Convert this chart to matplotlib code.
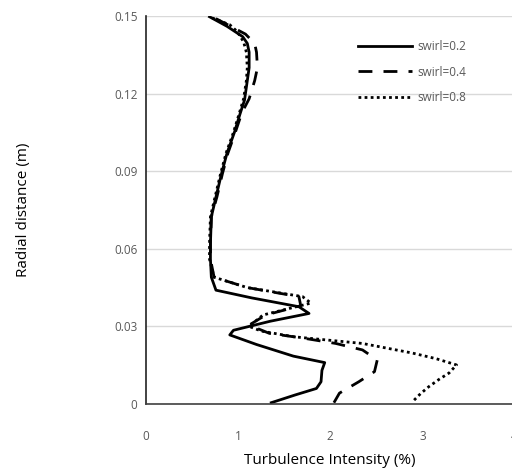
import numpy as np
import matplotlib.pyplot as plt

# turbulence intensity (%) against radial distance (m) for three swirl numbers
r_02 = [0.0005, 0.0035, 0.0060, 0.0086, 0.0130, 0.0160, 0.0185, 0.0230, 0.0267, 0.0285,
        0.0320, 0.0350, 0.0376, 0.0410, 0.0440, 0.0490, 0.0560, 0.0620, 0.0724,
        0.0800, 0.0890, 0.0970, 0.1050, 0.1120, 0.1175, 0.1250, 0.1300, 0.1360,
        0.1394, 0.1420, 0.1460, 0.1497]
ti_02 = [1.36, 1.62, 1.85, 1.90, 1.91, 1.94, 1.60, 1.20, 0.91, 0.95,
         1.35, 1.77, 1.66, 1.15, 0.76, 0.71, 0.70, 0.70, 0.71,
         0.76, 0.82, 0.88, 0.96, 1.02, 1.07, 1.10, 1.12, 1.12,
         1.10, 1.05, 0.88, 0.69]

r_04 = [0.0005, 0.0042, 0.0086, 0.0125, 0.0170, 0.0209, 0.0234, 0.0255, 0.0273, 0.0305,
        0.0344, 0.0380, 0.0415, 0.0450, 0.0490, 0.0560, 0.0620, 0.0724,
        0.0800, 0.0890, 0.0970, 0.1050, 0.1125, 0.1180, 0.1250, 0.1300, 0.1360,
        0.1394, 0.1430, 0.1460, 0.1497]
ti_04 = [2.04, 2.10, 2.31, 2.48, 2.51, 2.35, 2.06, 1.70, 1.34, 1.12,
         1.30, 1.68, 1.66, 1.10, 0.74, 0.70, 0.70, 0.71,
         0.77, 0.83, 0.89, 0.97, 1.04, 1.12, 1.18, 1.21, 1.20,
         1.18, 1.08, 0.92, 0.72]

r_08 = [0.0015, 0.0040, 0.0067, 0.0095, 0.0120, 0.0151, 0.0175, 0.0197, 0.0234, 0.0260,
        0.0282, 0.0300, 0.0344, 0.0390, 0.0415, 0.0450, 0.0490, 0.0560, 0.0620,
        0.0724, 0.0800, 0.0890, 0.0970, 0.1050, 0.1120, 0.1180, 0.1250, 0.1300,
        0.1360, 0.1400, 0.1440, 0.1466, 0.1495]
ti_08 = [2.91, 2.98, 3.07, 3.18, 3.29, 3.37, 3.15, 2.89, 2.35, 1.60,
         1.25, 1.12, 1.27, 1.79, 1.70, 1.10, 0.74, 0.69, 0.69,
         0.70, 0.75, 0.81, 0.87, 0.95, 1.01, 1.06, 1.09, 1.10,
         1.09, 1.06, 0.99, 0.91, 0.70]

x_ticks = [0, 1, 2, 3, 4]
y_ticks = [0, 0.03, 0.06, 0.09, 0.12, 0.15]
y_tick_labels = ['0', '0.03', '0.06', '0.09', '0.12', '0.15']

plt.rcParams['font.family'] = ['Open Sans', 'DejaVu Sans']

fig = plt.figure(figsize=(5.12, 4.74), dpi=100)
ax = fig.add_axes([0.285, 0.1477, 0.72, 0.8186])

ax.plot(ti_02, r_02, color='black', lw=2.0, label='swirl=0.2')
ax.plot(ti_04, r_04, color='black', lw=2.0, ls=(0, (5, 4)), label='swirl=0.4')
ax.plot(ti_08, r_08, color='black', lw=2.0, ls=(0, (1, 1.2)), label='swirl=0.8')

ax.set_xlim(0, 4)
ax.set_ylim(0, 0.15)
ax.set_xticks(x_ticks)
ax.set_yticks(y_ticks)
ax.set_yticklabels(y_tick_labels)
ax.tick_params(length=0, labelsize=8.5, labelcolor='#595959')
ax.tick_params(axis='x', pad=19)
ax.tick_params(axis='y', pad=6)

ax.grid(axis='y', color='#d9d9d9', lw=1)
ax.set_axisbelow(True)
for s in ['top', 'right']:
    ax.spines[s].set_visible(False)
ax.spines['left'].set_color('#222222')
ax.spines['left'].set_linewidth(1.2)
ax.spines['bottom'].set_color('#404040')
ax.spines['bottom'].set_linewidth(1.2)

ax.set_xlabel('Turbulence Intensity (%)', fontsize=11, labelpad=7)
ax.set_ylabel('Radial distance (m)', fontsize=11, labelpad=60)

leg = ax.legend(loc='upper right', bbox_to_anchor=(0.897, 0.965), frameon=False,
                fontsize=8.5, handlelength=4.6, handletextpad=0.4, labelspacing=1.05)
for t in leg.get_texts():
    t.set_color('#595959')

fig.savefig('out.png', dpi=100)
